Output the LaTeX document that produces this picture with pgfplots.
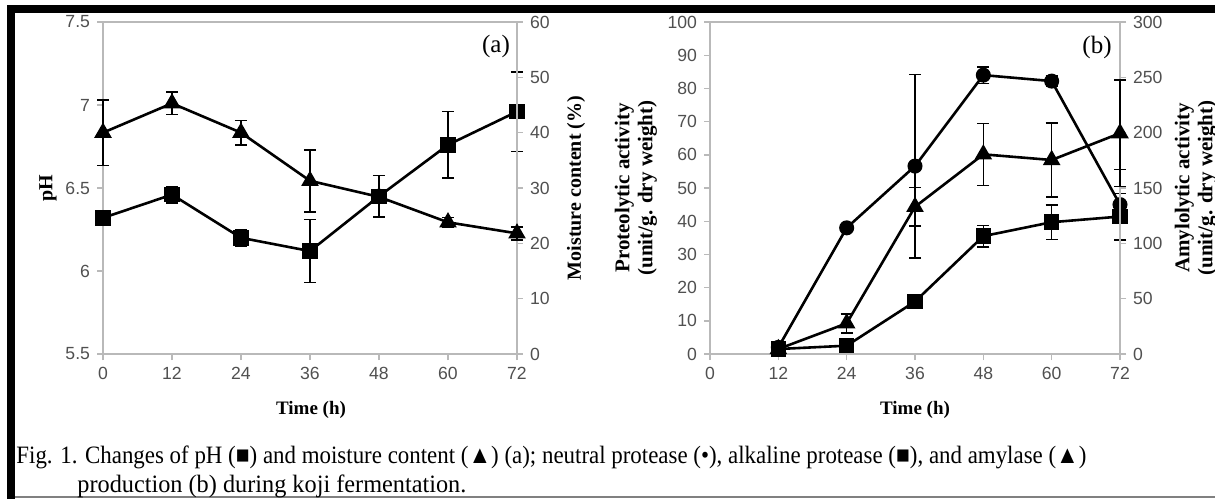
\documentclass[border=0pt]{standalone}
\usepackage{pgfplots}
\pgfplotsset{compat=1.18}
\usepackage{fontspec}
\setmainfont{Liberation Serif}
\newfontfamily\tickfont{Liberation Sans}
\definecolor{axgray}{RGB}{185,185,185}
\definecolor{ticktext}{RGB}{80,80,80}
\pgfplotsset{
  base/.style={scale only axis, anchor=south west, height=166pt, xmin=0, xmax=72,
    tick align=outside, major tick length=3pt,
    axis line style={draw=axgray, line width=0.7pt},
    tick style={draw=axgray, line width=0.7pt},
    tick label style={font=\tickfont\fontsize{8.8}{10}\selectfont, text=ticktext},
    /pgf/number format/assume math mode=true, clip=false},
  ser/.style={black, line width=1.3pt, mark options={solid, fill=black},
    error bars/.cd, y dir=both, y explicit,
    error bar style={line width=0.8pt, black},
    error mark options={rotate=90, mark size=3pt, line width=0.8pt, black}},
}
\begin{document}
\begin{tikzpicture}
\useasboundingbox (0,0) rectangle (607.5pt,249.5pt);
\fill[white] (0,0) rectangle (607.5pt,249.5pt);
% frame
\fill[black] (3.5pt,242.9pt) rectangle (607.5pt,247pt);
\fill[black] (3.5pt,0pt) rectangle (7.5pt,247pt);
\draw[gray, line width=0.6pt] (7.5pt,1pt) -- (607.5pt,1pt);

% ---------- panel (a) ----------
\begin{axis}[base, at={(51.5pt,72.5pt)}, width=207pt,
  ymin=5.5, ymax=7.5, ytick={5.5,6,6.5,7,7.5},
  xtick={0,12,24,36,48,60,72}, xtick pos=bottom, ytick pos=left]
\addplot[mark=square*, mark size=3.2pt, ser] table[x=x,y=y,y error=e] {
x y e
0 6.32 0
12 6.46 0.05
24 6.20 0.05
36 6.12 0.19
48 6.45 0.125
60 6.76 0.20
72 6.96 0.24
};
\end{axis}
\begin{axis}[base, at={(51.5pt,72.5pt)}, width=207pt,
  ymin=0, ymax=60, ytick={0,10,20,30,40,50,60},
  axis y line*=right, axis x line=none]
\addplot[mark=triangle*, mark size=3.8pt, ser] table[x=x,y=y,y error=e] {
x y e
0 40.0 5.9
12 45.3 2.0
24 40.0 2.2
36 31.3 5.6
48 28.4 0.5
60 23.8 0.9
72 21.8 1.2
};
\end{axis}

% ---------- panel (b) ----------
\begin{axis}[base, at={(355pt,72.5pt)}, width=205pt,
  ymin=0, ymax=100, ytick={0,10,20,30,40,50,60,70,80,90,100},
  xtick={0,12,24,36,48,60,72}, xtick pos=bottom, ytick pos=left]
\addplot[mark=*, mark size=3.1pt, ser] table[x=x,y=y,y error=e] {
x y e
12 2.0 0
24 38.0 0
36 56.6 27.6
48 84.0 2.5
60 82.2 1.5
72 45.0 10.6
};
\addplot[mark=square*, mark size=3.2pt, ser] table[x=x,y=y,y error=e] {
x y e
12 1.5 0
24 2.5 0
36 15.8 0
48 35.5 3.2
60 39.7 5.2
72 41.4 7.0
};
\end{axis}
\begin{axis}[base, at={(355pt,72.5pt)}, width=205pt,
  ymin=0, ymax=300, ytick={0,50,100,150,200,250,300},
  axis y line*=right, axis x line=none]
\addplot[mark=triangle*, mark size=3.8pt, ser] table[x=x,y=y,y error=e] {
x y e
12 4.5 0
24 27.7 8.7
36 133.0 17.4
48 180.4 28.0
60 175.3 33.6
72 199.5 48.0
};
\end{axis}

% labels
\node[rotate=90, font=\bfseries\fontsize{10}{12}\selectfont] at (24pt,155.5pt) {pH};
\node[font=\bfseries\fontsize{9.5}{11}\selectfont] at (155.5pt,44.5pt) {Time (h)};
\node[font=\bfseries\fontsize{9.5}{11}\selectfont] at (457.5pt,44.5pt) {Time (h)};
\node[rotate=90, font=\bfseries\fontsize{10}{12}\selectfont] at (288pt,155.5pt) {Moisture content (\%)};
\node[rotate=90, align=center, font=\bfseries\fontsize{10.5}{11.5}\selectfont] at (318pt,155.5pt) {Proteolytic activity\\(unit/g. dry weight)};
\node[rotate=90, align=center, font=\bfseries\fontsize{10.5}{11.5}\selectfont] at (598pt,155.5pt) {Amylolytic activity\\(unit/g. dry weight)};
\node[font=\fontsize{12.5}{14}\selectfont] at (248pt,226.5pt) {(a)};
\node[font=\fontsize{12.5}{14}\selectfont] at (548.5pt,226pt) {(b)};

% caption
\node[anchor=base west, inner sep=0] at (8pt,18pt) {\resizebox{535pt}{\height}{\fontsize{12.5}{14}\selectfont Fig. 1. Changes of pH (■) and moisture content (▲) (a); neutral protease (•), alkaline protease (■), and amylase (▲)}};
\node[anchor=base west, inner sep=0] at (38.5pt,3.5pt) {\resizebox{194.5pt}{\height}{\fontsize{12.5}{14}\selectfont production (b) during koji fermentation.}};
\end{tikzpicture}
\end{document}
